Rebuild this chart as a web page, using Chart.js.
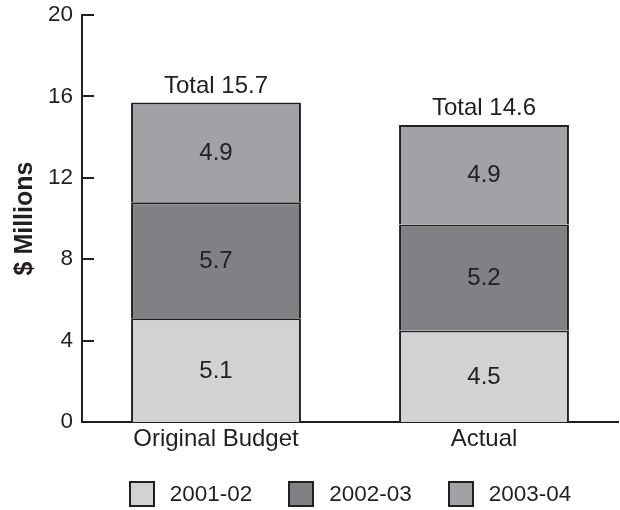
<!DOCTYPE html>
<html>
<head>
<meta charset="utf-8">
<script src="https://cdn.jsdelivr.net/npm/chart.js@4/dist/chart.umd.min.js"></script>
<style>
  html, body { margin: 0; padding: 0; background: #fff; }
  #wrap { position: relative; width: 620px; height: 510px; }
  #legend {
    position: absolute; left: 82px; width: 536px; top: 481px;
    display: flex; justify-content: center;
    font: 22.5px "Liberation Sans", Arial, Helvetica, sans-serif; color: #231f20;
    line-height: 26px;
  }
  .item { display: flex; align-items: center; margin: 0 18px; }
  .box { width: 26px; height: 26px; box-sizing: border-box; border: 2px solid #231f20; margin-right: 15px; }
</style>
</head>
<body>
<div id="wrap">
  <canvas id="c" width="620" height="510"></canvas>
  <div id="legend"></div>
</div>
<script>
// Budget versus actual spending, stacked by fiscal year ($ millions)
const categories = ['Original Budget', 'Actual'];
const years = ['2001-02', '2002-03', '2003-04'];
const values2001 = [5.1, 4.5];
const values2002 = [5.7, 5.2];
const values2003 = [4.9, 4.9];
const totals = [15.7, 14.6];
const yTicks = [0, 4, 8, 12, 16, 20];

const FONT = '"Liberation Sans", Arial, Helvetica, sans-serif';
const INK = '#231f20';
const fills = ['#d1d2d4', '#808184', '#a1a2a5'];
const series = [values2001, values2002, values2003];

const datasets = years.map((y, i) => ({
  label: y,
  data: series[i],
  backgroundColor: fills[i],
  borderColor: INK,
  borderWidth: 2,
  borderSkipped: 'start',
  barPercentage: 0.634,
  categoryPercentage: 1
}));

// Value inside each segment, and the stack total above each bar
const segmentLabels = {
  id: 'segmentLabels',
  afterDatasetsDraw(chart) {
    const ctx = chart.ctx;
    ctx.save();
    ctx.font = '24px ' + FONT;
    ctx.fillStyle = INK;
    ctx.textAlign = 'center';
    ctx.textBaseline = 'middle';
    chart.data.datasets.forEach((ds, di) => {
      chart.getDatasetMeta(di).data.forEach((bar, i) => {
        ctx.fillText(ds.data[i].toFixed(1), bar.x, (bar.y + bar.base) / 2 + 1);
      });
    });
    const top = chart.getDatasetMeta(chart.data.datasets.length - 1);
    ctx.textBaseline = 'alphabetic';
    top.data.forEach((bar, i) => {
      ctx.fillText('Total ' + totals[i].toFixed(1), bar.x, bar.y - 10);
    });
    ctx.restore();
  }
};

// Short tick marks pointing into the plot from the value axis
const innerTicks = {
  id: 'innerTicks',
  afterDraw(chart) {
    const s = chart.scales.y;
    const ctx = chart.ctx;
    ctx.save();
    ctx.strokeStyle = INK;
    ctx.lineWidth = 2;
    s.ticks.forEach(t => {
      const y = Math.round(s.getPixelForValue(t.value));
      ctx.beginPath();
      ctx.moveTo(s.right - 1, y);
      ctx.lineTo(s.right + 12, y);
      ctx.stroke();
    });
    ctx.restore();
  }
};

const chart = new Chart(document.getElementById('c'), {
  type: 'bar',
  data: { labels: categories, datasets },
  options: {
    responsive: false,
    animation: false,
    layout: { padding: { top: 15, right: 2, left: 0, bottom: 0 } },
    plugins: { legend: { display: false }, tooltip: { enabled: false } },
    scales: {
      x: {
        stacked: true,
        grid: { display: false, drawTicks: false },
        border: { display: true, color: INK, width: 2 },
        ticks: { font: { size: 24, family: FONT }, color: INK, padding: 3 },
        afterFit(s) { s.height = 88; s.paddingLeft = 0; s.paddingRight = 0; }
      },
      y: {
        stacked: true,
        min: 0,
        max: 20,
        afterBuildTicks(s) { s.ticks = yTicks.map(v => ({ value: v })); },
        grid: { display: false, drawTicks: false },
        border: { display: true, color: INK, width: 2 },
        ticks: { font: { size: 22.5, family: FONT }, color: INK, padding: 9 },
        title: {
          display: true, text: '$ Millions', color: INK,
          font: { size: 25, weight: 'bold', family: FONT },
          padding: { top: 10, bottom: 0 }
        },
        afterFit(s) { s.width = 82; s.paddingTop = 0; s.paddingBottom = 0; }
      }
    }
  },
  plugins: [segmentLabels, innerTicks]
});

// Legend built from the chart's own datasets
const legend = document.getElementById('legend');
chart.data.datasets.forEach(ds => {
  const item = document.createElement('div');
  item.className = 'item';
  const box = document.createElement('span');
  box.className = 'box';
  box.style.background = ds.backgroundColor;
  const text = document.createElement('span');
  text.textContent = ds.label;
  item.appendChild(box);
  item.appendChild(text);
  legend.appendChild(item);
});
</script>
</body>
</html>
